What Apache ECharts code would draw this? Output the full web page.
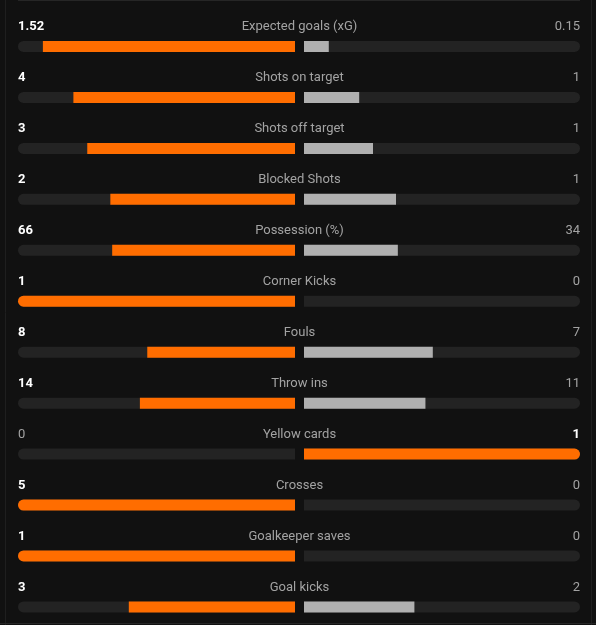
<!DOCTYPE html>
<html>
<head>
<meta charset="utf-8">
<script src="https://cdn.jsdelivr.net/npm/echarts@6/dist/echarts.min.js"></script>
<style>
  html, body { margin: 0; padding: 0; background: #111111; }
  #chart { width: 596px; height: 625px; }
</style>
</head>
<body>
<div id="chart"></div>
<script>
// match stats, home vs away
var statNames = ['Expected goals (xG)', 'Shots on target', 'Shots off target', 'Blocked Shots',
    'Possession (%)', 'Corner Kicks', 'Fouls', 'Throw ins', 'Yellow cards', 'Crosses',
    'Goalkeeper saves', 'Goal kicks'];
var homeValues = [1.52, 4, 3, 2, 66, 1, 8, 14, 0, 5, 1, 3];
var awayValues = [0.15, 1, 1, 1, 34, 0, 7, 11, 1, 0, 0, 2];

var ORANGE = '#ff6d00';
var GREY = '#b0b0b0';
var TRACK = '#232323';
var TEXT = '#a3a3a3';

var myChart = echarts.init(document.getElementById('chart'));

function share(a, b) {
    return (a + b) === 0 ? 0 : a / (a + b);
}

var homeBars = [], awayBars = [], ones = [];
for (var i = 0; i < statNames.length; i++) {
    var h = homeValues[i], a = awayValues[i];
    var hs = share(h, a), as = share(a, h);
    homeBars.push({
        value: hs,
        itemStyle: { color: h >= a ? ORANGE : GREY, borderRadius: hs >= 1 ? [5.5, 0, 0, 5.5] : 0 }
    });
    awayBars.push({
        value: as,
        itemStyle: { color: a > h ? ORANGE : GREY, borderRadius: as >= 1 ? [0, 5.5, 5.5, 0] : 0 }
    });
    ones.push(1);
}

function valueLabel(values, others) {
    return function (p) {
        var v = values[p.dataIndex], o = others[p.dataIndex];
        return v > o ? '{w|' + v + '}' : '{n|' + v + '}';
    };
}
var richText = {
    w: { color: '#ffffff', fontWeight: 'bold', fontSize: 13, fontFamily: 'Roboto' },
    n: { color: TEXT, fontSize: 13, fontFamily: 'Roboto' }
};

var option = {
    backgroundColor: '#111111',
    animation: false,
    grid: [
        { left: 18, width: 277, top: 21, height: 611.4, outerBoundsMode: 'none', containLabel: false },
        { left: 304, width: 276, top: 21, height: 611.4, outerBoundsMode: 'none', containLabel: false }
    ],
    xAxis: [
        { gridIndex: 0, type: 'value', min: 0, max: 1, inverse: true, show: false },
        { gridIndex: 1, type: 'value', min: 0, max: 1, show: false }
    ],
    yAxis: [
        { gridIndex: 0, type: 'category', data: statNames, inverse: true, show: false },
        { gridIndex: 1, type: 'category', data: statNames, inverse: true, show: false }
    ],
    graphic: [ // panel borders
        { type: 'line', shape: { x1: 5.5, y1: 0, x2: 5.5, y2: 625 }, style: { stroke: '#1f1f1f', lineWidth: 1 } },
        { type: 'line', shape: { x1: 591.5, y1: 0, x2: 591.5, y2: 625 }, style: { stroke: '#1f1f1f', lineWidth: 1 } },
        { type: 'line', shape: { x1: 18, y1: 0.5, x2: 580, y2: 0.5 }, style: { stroke: '#262626', lineWidth: 1 } },
        { type: 'line', shape: { x1: 0, y1: 623.5, x2: 596, y2: 623.5 }, style: { stroke: '#262626', lineWidth: 1 } }
    ],
    series: [
        {   // left track + home value
            type: 'bar', xAxisIndex: 0, yAxisIndex: 0, data: ones, barWidth: 11, silent: true,
            itemStyle: { color: TRACK, borderRadius: [5.5, 0, 0, 5.5] },
            label: {
                show: true, position: [0, -14], align: 'left', verticalAlign: 'middle',
                formatter: valueLabel(homeValues, awayValues), rich: richText
            }
        },
        {
            type: 'bar', xAxisIndex: 0, yAxisIndex: 0, data: homeBars, barWidth: 11, barGap: '-100%', silent: true
        },
        {   // stat name, centred between both halves
            type: 'bar', xAxisIndex: 0, yAxisIndex: 0, data: ones, barWidth: 11, barGap: '-100%', silent: true,
            itemStyle: { color: 'rgba(0,0,0,0)' },
            label: {
                show: true, position: ['100%', -14], offset: [4.5, 0], align: 'center', verticalAlign: 'middle',
                formatter: '{b}', color: TEXT, fontSize: 13, fontFamily: 'Roboto'
            }
        },
        {   // right track + away value
            type: 'bar', xAxisIndex: 1, yAxisIndex: 1, data: ones, barWidth: 11, silent: true,
            itemStyle: { color: TRACK, borderRadius: [0, 5.5, 5.5, 0] },
            label: {
                show: true, position: ['100%', -14], align: 'right', verticalAlign: 'middle',
                formatter: valueLabel(awayValues, homeValues), rich: richText
            }
        },
        {
            type: 'bar', xAxisIndex: 1, yAxisIndex: 1, data: awayBars, barWidth: 11, barGap: '-100%', silent: true
        }
    ]
};
myChart.setOption(option);
</script>
</body>
</html>
